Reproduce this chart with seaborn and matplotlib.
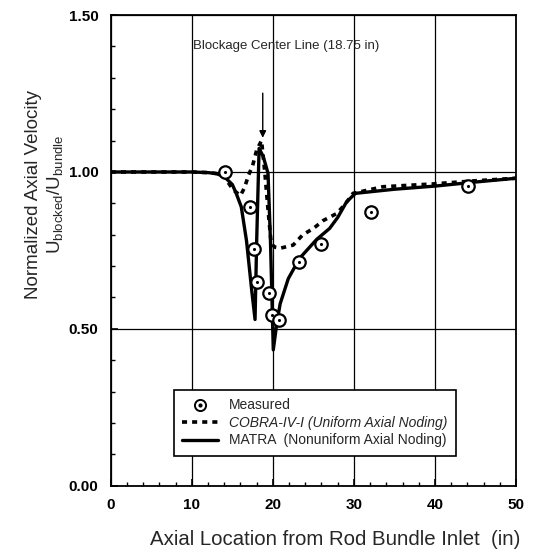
import numpy as np
import pandas as pd
import seaborn as sns
import matplotlib
matplotlib.use("Agg")
import matplotlib.pyplot as plt
from matplotlib.ticker import MultipleLocator
from matplotlib.legend_handler import HandlerTuple
from matplotlib.lines import Line2D

# measured data
meas_x = [14.1, 17.2, 17.65, 18.06, 19.5, 19.95, 20.8, 23.25, 26.0, 32.1, 44.1]
meas_y = [1.00, 0.89, 0.755, 0.65, 0.615, 0.545, 0.527, 0.714, 0.771, 0.874, 0.955]

# COBRA-IV-I (uniform axial noding)
cobra_x = [0, 10, 12, 13, 14, 15.1, 16.0, 16.5, 17.0, 17.5, 18.0, 18.6, 19.0, 19.4,
           19.8, 20.3, 20.9, 22.5, 23.7, 25.0, 26.2, 27.9, 29.0, 29.9, 33.6, 39.8, 45, 50]
cobra_y = [1.0, 1.0, 0.998, 0.995, 0.985, 0.943, 0.925, 0.95, 0.99, 1.02, 1.07, 1.10, 1.0, 0.88,
           0.77, 0.76, 0.757, 0.767, 0.80, 0.82, 0.845, 0.868, 0.90, 0.932, 0.953, 0.962, 0.972, 0.98]

# MATRA (nonuniform axial noding)
matra_x = [0, 10, 12, 13, 14, 15, 15.5, 16.1, 16.75, 17.4, 17.8, 18.0, 18.3, 18.8, 19.4,
           19.7, 20.05, 20.5, 20.9, 21.9, 23.3, 25.4, 27.0, 28.0, 29.1, 30.2, 35, 40, 45, 50]
matra_y = [1.0, 1.0, 0.998, 0.995, 0.985, 0.96, 0.93, 0.889, 0.78, 0.62, 0.53, 0.78, 1.075, 1.05, 0.996,
           0.783, 0.433, 0.52, 0.58, 0.66, 0.725, 0.785, 0.82, 0.855, 0.905, 0.932, 0.945, 0.955, 0.968, 0.98]


def main():
    sns.set_style("ticks")
    plt.rcParams['font.family'] = ['Liberation Sans', 'DejaVu Sans']

    fig = plt.figure(figsize=(5.38, 5.59), dpi=100)
    ax = fig.add_axes([0.206, 0.131, 0.753, 0.842])

    df_cobra = pd.DataFrame({"x": cobra_x, "y": cobra_y})
    df_matra = pd.DataFrame({"x": matra_x, "y": matra_y})
    df_meas = pd.DataFrame({"x": meas_x, "y": meas_y})

    sns.lineplot(data=df_cobra, x="x", y="y", ax=ax, color="black", lw=2.6,
                 linestyle=(0, (1.4, 1.4)), sort=False, estimator=None)
    sns.lineplot(data=df_matra, x="x", y="y", ax=ax, color="black", lw=2.4,
                 sort=False, estimator=None)
    sns.scatterplot(data=df_meas, x="x", y="y", ax=ax, marker="o", s=80,
                    facecolor="white", edgecolor="black", linewidth=1.6, zorder=5)
    sns.scatterplot(data=df_meas, x="x", y="y", ax=ax, marker="o", s=5,
                    color="black", linewidth=0, zorder=6)

    ax.set_xlim(0, 50)
    ax.set_ylim(0, 1.5)
    ax.xaxis.set_major_locator(MultipleLocator(10))
    ax.xaxis.set_minor_locator(MultipleLocator(2))
    ax.yaxis.set_major_locator(MultipleLocator(0.5))
    ax.yaxis.set_minor_locator(MultipleLocator(0.1))
    ax.set_yticklabels(["%.2f" % v for v in ax.get_yticks()])
    ax.tick_params(which="both", direction="in", colors="black")
    ax.tick_params(which="major", length=5, width=1.2, labelsize=11, pad=9)
    ax.tick_params(which="minor", length=3, width=1)
    for lab in ax.get_xticklabels() + ax.get_yticklabels():
        lab.set_fontweight("bold")
    ax.grid(True, which="major", color="black", lw=0.9)
    for sp in ax.spines.values():
        sp.set_visible(True)
        sp.set_color("black")
        sp.set_linewidth(1.3)
    ax.set_xlabel("")
    ax.set_ylabel("")

    fig.text(0.623, 0.034, "Axial Location from Rod Bundle Inlet  (in)",
             ha="center", va="center", fontsize=14.7)
    fig.text(0.063, 0.652, "Normalized Axial Velocity", rotation=90,
             ha="center", va="center", fontsize=13.5)
    fig.text(0.103, 0.652, r"U$_{\mathregular{blocked}}$/U$_{\mathregular{bundle}}$",
             rotation=90, ha="center", va="center", fontsize=13.5)

    ax.annotate("", xy=(18.75, 1.10), xytext=(18.75, 1.26),
                arrowprops=dict(arrowstyle="-|>", color="black", lw=1.0,
                                mutation_scale=10))
    ax.text(10.1, 1.40, "Blockage Center Line (18.75 in)", ha="left",
            va="center", fontsize=9.5)

    h_meas = (Line2D([], [], marker="o", ls="none", mfc="white", mec="black",
                     mew=1.4, ms=8),
              Line2D([], [], marker="o", ls="none", color="black", ms=2))
    h_cobra = Line2D([], [], color="black", lw=2.6, linestyle=(0, (1.4, 1.4)))
    h_matra = Line2D([], [], color="black", lw=2.4)
    leg = ax.legend([h_meas, h_cobra, h_matra],
                    ["Measured", "COBRA-IV-I (Uniform Axial Noding)",
                     "MATRA  (Nonuniform Axial Noding)"],
                    handler_map={tuple: HandlerTuple(ndivide=1)},
                    loc="lower left", bbox_to_anchor=(0.138, 0.049),
                    frameon=True, fancybox=False, edgecolor="black",
                    framealpha=1, handlelength=2.6, labelspacing=0.25,
                    borderpad=0.6, prop={"size": 10})
    leg.get_frame().set_linewidth(1.2)
    leg.get_texts()[1].set_fontstyle("italic")

    fig.savefig("out.png", dpi=100)


if __name__ == "__main__":
    main()
